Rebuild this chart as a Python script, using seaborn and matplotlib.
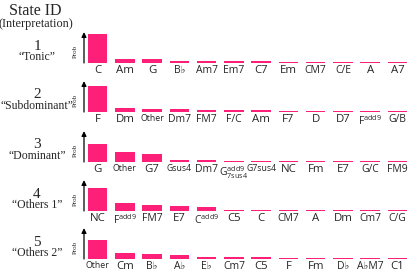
import matplotlib
matplotlib.use('Agg')
import matplotlib.pyplot as plt
import seaborn as sns
import pandas as pd

# chord labels and probabilities for each state
state_ids = ['1', '2', '3', '4', '5']
state_names = ['\u201cTonic\u201d', '\u201cSubdominant\u201d', '\u201cDominant\u201d',
               '\u201cOthers 1\u201d', '\u201cOthers 2\u201d']

chords_1 = ['C', 'Am', 'G', 'B\u266d', 'Am7', 'Em7', 'C7', 'Em', 'CM7', 'C/E', 'A', 'A7']
probs_1 = [0.63, 0.095, 0.085, 0.048, 0.045, 0.043, 0.035, 0.03, 0.028, 0.024, 0.022, 0.018]

chords_2 = ['F', 'Dm', 'Other', 'Dm7', 'FM7', 'F/C', 'Am', 'F7', 'D', 'D7',
            r'F$^{\mathregular{add9}}$', 'G/B']
probs_2 = [0.56, 0.085, 0.075, 0.072, 0.045, 0.043, 0.033, 0.03, 0.027, 0.026, 0.022, 0.018]

chords_3 = ['G', 'Other', 'G7', 'Gsus4', 'Dm7',
            r'G$^{\mathregular{add9}}_{\mathregular{7sus4}}$', 'G7sus4', 'NC', 'Fm', 'E7',
            'G/C', 'FM9']
probs_3 = [0.39, 0.22, 0.17, 0.035, 0.033, 0.028, 0.027, 0.022, 0.022, 0.02, 0.018, 0.017]

chords_4 = ['NC', r'F$^{\mathregular{add9}}$', 'FM7', 'E7', r'C$^{\mathregular{add9}}$',
            'C5', 'C', 'CM7', 'A', 'Dm', 'Cm7', 'C/G']
probs_4 = [0.50, 0.17, 0.13, 0.11, 0.09, 0.03, 0.03, 0.022, 0.02, 0.018, 0.017, 0.016]

chords_5 = ['Other', 'Cm', 'B\u266d', 'A\u266d', 'E\u266d', 'Cm7', 'C5', 'F', 'Fm', 'D\u266d',
            'A\u266dM7', 'C1']
probs_5 = [0.41, 0.13, 0.10, 0.09, 0.045, 0.035, 0.033, 0.027, 0.024, 0.022, 0.02, 0.018]

all_chords = [chords_1, chords_2, chords_3, chords_4, chords_5]
all_probs = [probs_1, probs_2, probs_3, probs_4, probs_5]

sns.set_style('white')
plt.rcParams['font.family'] = ['Open Sans', 'DejaVu Sans']
plt.rcParams['mathtext.default'] = 'regular'

pink = '#fe1f78'
serif = 'Liberation Serif'
W, H = 411, 276

fig = plt.figure(figsize=(W / 100, H / 100), dpi=100)

fig.text(35 / W, 1 - 11 / H, 'State ID', family=serif, fontsize=11.5, ha='center', va='center')
fig.text(36 / W, 1 - 24 / H, '(Interpretation)', family=serif, fontsize=8.8, ha='center', va='center')

baselines = [63, 112, 162, 211, 259]

for i in range(5):
    base = baselines[i]
    ax = fig.add_axes([84 / W, (H - base) / H, 327 / W, 30 / H])
    df = pd.DataFrame({'chord': all_chords[i], 'prob': all_probs[i]})
    sns.barplot(data=df, x='chord', y='prob', order=all_chords[i], color=pink,
                saturation=1, width=0.72, linewidth=0, ax=ax)
    ax.set_xlim(-0.5, 11.5)
    ax.set_ylim(0, 0.65)
    ax.set_yticks([])
    ax.set_xlabel('')
    ax.set_ylabel('')
    for s in ax.spines.values():
        s.set_visible(False)
    ax.tick_params(axis='x', length=0, pad=1.5)
    for lab in ax.get_xticklabels():
        t = lab.get_text()
        if t == 'Other':
            lab.set_fontsize(6.3)
        elif '$' in t:
            lab.set_fontsize(7.5)
        elif len(t) >= 5:
            lab.set_fontsize(6.3)
        elif len(t) >= 3 or '\u266d' in t:
            lab.set_fontsize(7.5)
        else:
            lab.set_fontsize(8.2)
    ax.annotate('', xy=(0, 1.03), xytext=(0, 0), xycoords='axes fraction',
                arrowprops=dict(arrowstyle='-|>', color='black', lw=0.9,
                                mutation_scale=7, shrinkA=0, shrinkB=0))
    ax.text(-0.028, 0.38, 'Prob', transform=ax.transAxes, rotation=90, family=serif,
            fontsize=5, ha='center', va='center')
    fig.text(37 / W, 1 - (base - 17) / H, state_ids[i], family=serif, fontsize=11,
             ha='center', va='center')
    fig.text(37 / W, 1 - (base - 6) / H, state_names[i], family=serif, fontsize=8.5,
             ha='center', va='center')

plt.savefig('out.png', dpi=100)
